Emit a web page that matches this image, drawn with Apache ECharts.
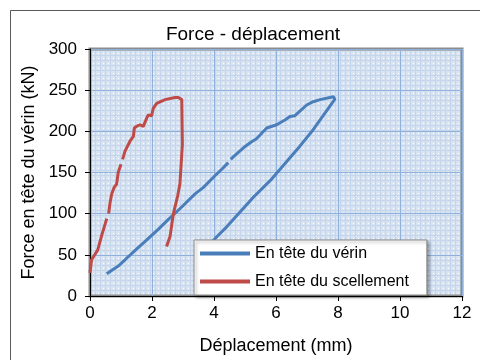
<!DOCTYPE html>
<html>
<head>
<meta charset="utf-8">
<script src="https://cdn.jsdelivr.net/npm/echarts@6/dist/echarts.min.js"></script>
<style>html,body{margin:0;padding:0;background:#fff}#c{width:480px;height:360px}</style>
</head>
<body>
<div id="c"></div>
<script>
// Data (x: displacement mm, y: force kN); null = break in line
const verinX = [0.54,0.9,1.13,1.5,1.77,2.2,2.53,2.9,3.39,3.66,4.03,4.25,4.46,null,4.54,4.62,4.95,5.2,5.37,5.7,6.02,6.3,6.45,6.61,6.99,7.2,7.42,7.85,7.9,7.2,6.77,5.86,5.27,4.41,4.09,3.6];
const verinY = [27,36,44,57,66,81,93,106,124,132,146,154,162,null,166,169,180,187,191,204,208,214,218,219,232,236,238.5,242,239,202,182,142,120,84,72,52];
const scellX = [0,0.05,0.25,0.38,0.54,null,0.6,0.65,0.7,0.78,0.86,0.91,1.0,null,1.05,1.08,1.13,1.29,1.4,1.43,1.5,1.61,1.72,1.83,1.88,1.99,2.04,2.15,2.42,2.74,2.85,2.96,2.98,2.9,2.83,2.69,2.58,2.47];
const scellY = [28,44,56,74,94,null,100,114,124,132,136,150,160,null,166,168,176,188,194,204,206,208,206,216,220,219,228,234,238.5,241,241,238.5,184,136,122,100,72,60];
const seriesNames = ['En tête du vérin','En tête du scellement'];
const xTicks = {min:0, max:12, interval:2};
const yTicks = {min:0, max:300, interval:50};

function pairs(xs, ys){ return xs.map((x,i)=> x===null ? '-' : [x, ys[i]]); }

// pattern for plot background
const tile = document.createElement('canvas');
tile.width = 5; tile.height = 5;
const g = tile.getContext('2d');
g.fillStyle = '#d9e4f2'; g.fillRect(0,0,5,5);
g.fillStyle = '#c4d5ec'; g.fillRect(0,0,5,1); g.fillRect(0,0,1,5);
g.fillStyle = '#ffffff'; g.fillRect(3,3,1,1);

const font = 'Liberation Sans, Arial, sans-serif';
const chart = echarts.init(document.getElementById('c'), null, {renderer:'canvas'});
chart.setOption({
  animation:false,
  textStyle:{fontFamily:font},
  title:{text:'Force - déplacement', left:248, top:20, textAlign:'center',
    textStyle:{fontFamily:font, fontSize:19, fontWeight:'normal', color:'#000'}},
  graphic:[{type:'rect', shape:{x:10.5,y:10.5,width:500,height:400}, style:{fill:'none', stroke:'#5a5a5a', lineWidth:1}, z:-10}],
  grid:{left:90, top:49, right:18, bottom:62, show:true,
    backgroundColor:{image:tile, repeat:'repeat'}, borderColor:'#8c8c8c', borderWidth:3},
  xAxis:{type:'value', min:xTicks.min, max:xTicks.max, interval:xTicks.interval,
    name:'Déplacement (mm)', nameLocation:'middle', nameGap:41,
    nameTextStyle:{fontFamily:font, fontSize:18, color:'#000'},
    axisLine:{onZero:false, lineStyle:{color:'#000', width:1}},
    axisTick:{show:true, length:5, lineStyle:{color:'#000'}},
    axisLabel:{fontFamily:font, fontSize:17, color:'#000', margin:9},
    splitLine:{show:true, lineStyle:{color:'#8fb1dc', width:1}}},
  yAxis:{type:'value', min:yTicks.min, max:yTicks.max, interval:yTicks.interval,
    name:'Force en tête du vérin (kN)', nameLocation:'middle', nameGap:51,
    nameTextStyle:{fontFamily:font, fontSize:18, color:'#000'},
    axisLine:{show:true, onZero:false, lineStyle:{color:'#000', width:1}},
    axisTick:{show:true, length:5, lineStyle:{color:'#000'}},
    axisLabel:{fontFamily:font, fontSize:17, color:'#000', margin:13},
    splitLine:{show:true, lineStyle:{color:'#8fb1dc', width:1}}},
  legend:{orient:'vertical', left:194, top:240, padding:[5,18,5,6],
    backgroundColor:'#fff', borderColor:'#8c8c8c', borderWidth:1,
    shadowBlur:3, shadowOffsetX:2, shadowOffsetY:2, shadowColor:'rgba(0,0,0,0.35)',
    itemWidth:50, itemHeight:4, itemGap:11, icon:'rect',
    textStyle:{fontFamily:font, fontSize:16, color:'#000', lineHeight:17},
    data:seriesNames},
  series:[
    {name:seriesNames[0], type:'line', data:pairs(verinX, verinY), symbol:'none',
      connectNulls:false, lineStyle:{color:'#4a7ebb', width:3}, itemStyle:{color:'#4a7ebb'}},
    {name:seriesNames[1], type:'line', data:pairs(scellX, scellY), symbol:'none',
      connectNulls:false, lineStyle:{color:'#be4b48', width:3}, itemStyle:{color:'#be4b48'}}
  ]
});
</script>
</body>
</html>
